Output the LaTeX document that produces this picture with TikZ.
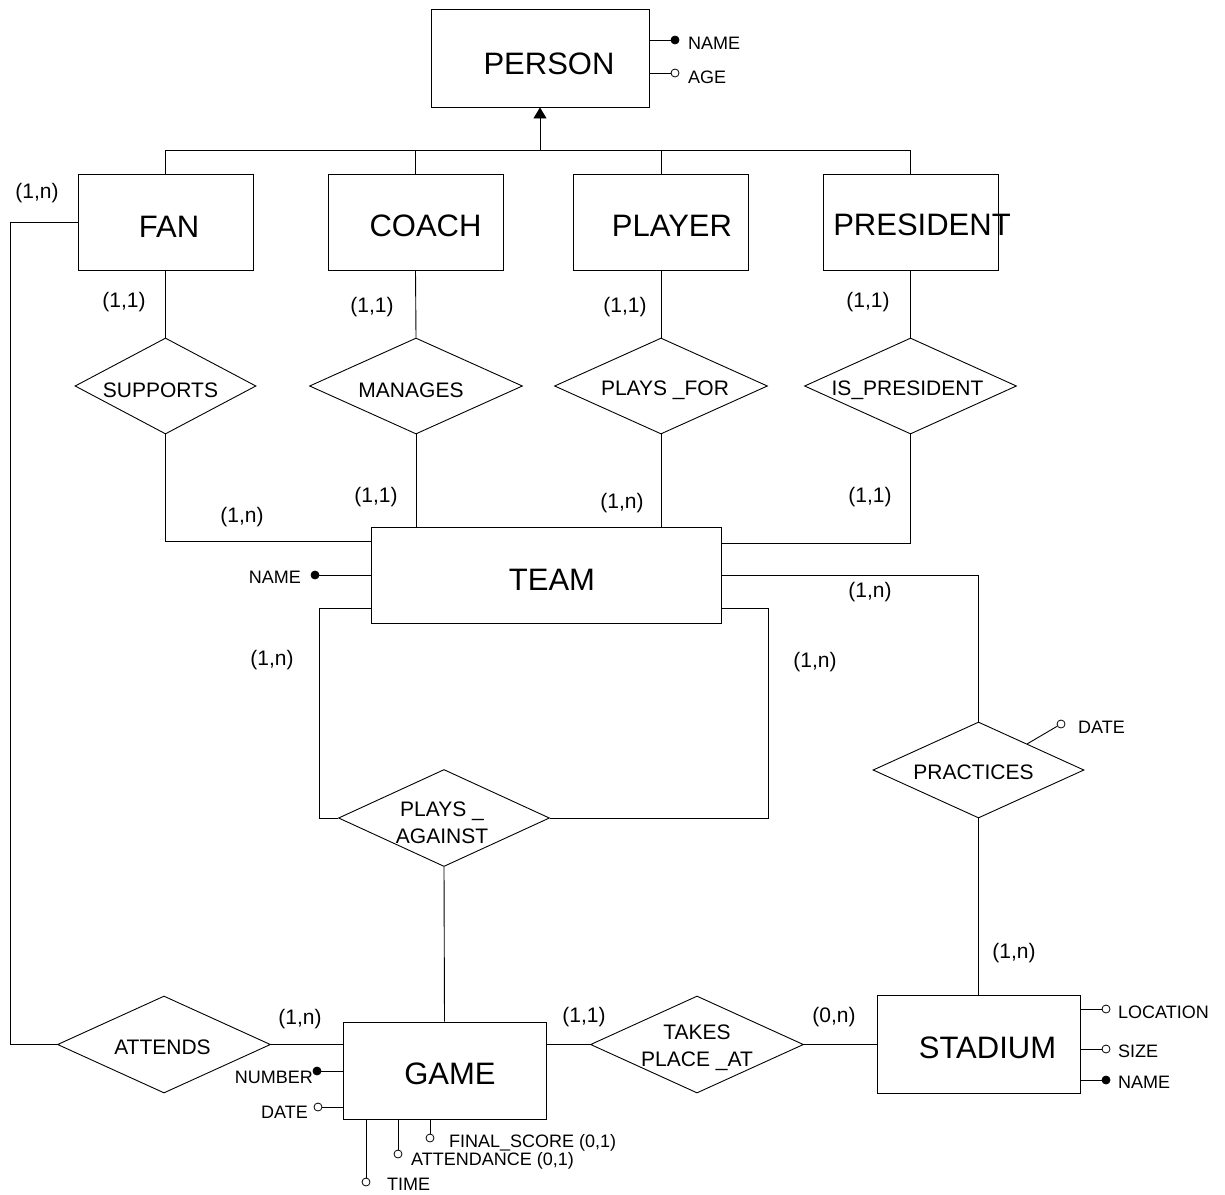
\documentclass[tikz,border=0pt]{standalone}
\usepackage{fontspec}
\setmainfont{Liberation Sans}
\usetikzlibrary{shapes.geometric,arrows.meta,calc}
\begin{document}
\begin{tikzpicture}[x=1pt,y=-1pt,
  every node/.style={inner sep=0pt},
  line/.style={draw=black, line width=0.9pt},
  entity/.style={draw, line width=0.9pt, minimum width=175pt, minimum height=96pt},
  relation/.style={diamond, draw, line width=0.9pt, minimum width=212pt, minimum height=96pt},
  enttext/.style={font=\fontsize{31}{34}\selectfont},
  reltext/.style={font=\fontsize{21}{27}\selectfont, align=center},
  card/.style={font=\fontsize{21}{24}\selectfont},
  attr/.style={font=\fontsize{18}{20}\selectfont},
  keydot/.style={circle, draw, line width=0.8pt, fill=black, minimum size=8pt},
  optdot/.style={circle, draw, line width=0.8pt, fill=white, minimum size=8pt},
]
\fill[white] (0,0) rectangle (1225,1194);
\useasboundingbox (0,0) rectangle (1225,1194);

% ---------- entities ----------
\node[entity, minimum width=218pt, minimum height=98pt,
      label={[enttext,xshift=9pt,yshift=-6pt]center:PERSON}] (person) at (540,58) {};
\node[entity, label={[enttext,xshift=3.5pt,yshift=-4.5pt]center:FAN}] (fan) at (165.5,222) {};
\node[entity, label={[enttext,xshift=10pt,yshift=-4pt]center:COACH}] (coach) at (415.5,222) {};
\node[entity, label={[enttext,xshift=11pt,yshift=-4pt]center:PLAYER}] (player) at (661,222) {};
\node[entity, label={[enttext,xshift=11.5pt,yshift=-3pt]center:PRESIDENT}] (president) at (910.5,222) {};
\node[entity, minimum width=350pt,
      label={[enttext,xshift=6pt,yshift=-5pt]center:TEAM}] (team) at (546,575) {};
\node[entity, minimum width=203pt, minimum height=97pt,
      label={[enttext,xshift=5.5pt,yshift=-3.5pt]center:GAME}] (game) at (444.5,1070.5) {};
\node[entity, minimum width=203pt, minimum height=98pt,
      label={[enttext,xshift=9pt,yshift=-4pt]center:STADIUM}] (stadium) at (978.5,1044) {};

% ---------- relationships ----------
\node[relation, minimum width=181pt,
      label={[reltext,xshift=-5pt,yshift=-4pt]center:SUPPORTS}] (supports) at (165.5,386) {};
\node[relation, minimum width=213pt,
      label={[reltext,xshift=-5pt,yshift=-4pt]center:MANAGES}] (manages) at (416,386) {};
\node[relation, minimum width=213pt,
      label={[reltext,xshift=4pt,yshift=-4pt]center:PLAYS \_FOR}] (playsfor) at (661,386) {};
\node[relation,
      label={[reltext,xshift=-3pt,yshift=-4pt]center:IS\_PRESIDENT}] (ispresident) at (910.5,386) {};
\node[relation, minimum width=211pt, minimum height=97pt,
      label={[reltext,xshift=-2pt,yshift=-4.5pt]center:{PLAYS \_\\AGAINST}}] (playsagainst) at (444,818) {};
\node[relation, minimum width=213pt, minimum height=97pt,
      label={[reltext,xshift=-1.5pt,yshift=-3pt]center:ATTENDS}] (attends) at (164,1044.5) {};
\node[relation, minimum width=213pt, minimum height=97pt,
      label={[reltext,yshift=-3pt]center:{TAKES\\PLACE \_AT}}] (takes) at (697,1044.5) {};
\node[relation, minimum width=211pt,
      label={[reltext,xshift=-5pt,yshift=-2.5pt]center:PRACTICES}] (practices) at (978.5,770) {};

% ---------- generalisation ----------
\coordinate (isa) at ($(person.south)+(0,43)$);
\draw[line] (fan.north) |- (isa) -| (president.north);
\draw[line] (coach.north) -- (coach.north |- isa);
\draw[line] (player.north) -- (player.north |- isa);
\draw[line, -{Triangle[length=11pt,width=13pt]}] (isa) -- (person.south);

% ---------- connectors ----------
\draw[line] (fan.south) -- (supports.north);
\draw[line] (supports.south) |- ([yshift=34pt]team.west);
\draw[line] (coach.south) -- (manages.north);
\draw[line] (manages.south) -- (manages.south |- team.north);
\draw[line] (player.south) -- (playsfor.north);
\draw[line] (playsfor.south) -- (playsfor.south |- team.north);
\draw[line] (president.south) -- (ispresident.north);
\draw[line] (ispresident.south) |- ([yshift=32pt]team.east);
\draw[line] (team.east) -| (practices.north);
\draw[line] (practices.south) -- (stadium.north);
\draw[line] ([yshift=-33pt]team.west) -- ++(-51,0) |- (playsagainst.west);
\draw[line] ([yshift=-33pt]team.east) -- ++(47,0) |- (playsagainst.east);
\draw[line] (playsagainst.south) -- (game.north);
\draw[line] (fan.west) -- ++(-67,0) |- (attends.west);
\draw[line] (attends.east) -- (attends.east -| game.west);
\draw[line] (game.east |- takes.west) -- (takes.west);
\draw[line] (takes.east) -- (takes.east -| stadium.west);

% ---------- cardinalities ----------
\node[card] (c1) at (37,193) {(1,n)};
\node[card] (c2) at (124,302) {(1,1)};
\node[card] (c3) at (372,307) {(1,1)};
\node[card] (c4) at (625,307) {(1,1)};
\node[card] (c5) at (868,302) {(1,1)};
\node[card] (c6) at (242,517) {(1,n)};
\node[card] (c7) at (376,497) {(1,1)};
\node[card] (c8) at (622,503) {(1,n)};
\node[card] (c9) at (870,497) {(1,1)};
\node[card] (c10) at (870,592) {(1,n)};
\node[card] (c11) at (272,660) {(1,n)};
\node[card] (c12) at (815,662) {(1,n)};
\node[card] (c13) at (1014,953) {(1,n)};
\node[card] (c14) at (300,1019) {(1,n)};
\node[card] (c15) at (584,1017) {(1,1)};
\node[card] (c16) at (834,1017) {(0,n)};

% ---------- attributes: PERSON ----------
\node[keydot] (pname) at (675,40) {};
\draw[line] (pname -| person.east) -- (pname);
\node[attr, anchor=west] (pnameT) at (688,43) {NAME};
\node[optdot] (page) at (675,73) {};
\draw[line] (page -| person.east) -- (page);
\node[attr, anchor=west] (pageT) at (688,77) {AGE};

% ---------- attributes: TEAM ----------
\node[keydot] (tname) at (315,575) {};
\draw[line] (team.west) -- (tname);
\node[attr, anchor=east] (tnameT) at (301,577) {NAME};

% ---------- attributes: PRACTICES ----------
\node[optdot] (prdate) at (1061,724) {};
\draw[line] ($(practices.north)!0.46!(practices.east)$) -- (prdate);
\node[attr, anchor=west] (prdateT) at (1078,727) {DATE};

% ---------- attributes: STADIUM ----------
\node[optdot] (sloc) at (1106,1009) {};
\draw[line] (sloc -| stadium.east) -- (sloc);
\node[attr, anchor=west] (slocT) at (1118,1012) {LOCATION};
\node[optdot] (ssize) at (1106,1049) {};
\draw[line] (ssize -| stadium.east) -- (ssize);
\node[attr, anchor=west] (ssizeT) at (1118,1051) {SIZE};
\node[keydot] (sname) at (1106,1080) {};
\draw[line] (sname -| stadium.east) -- (sname);
\node[attr, anchor=west] (snameT) at (1118,1082) {NAME};

% ---------- attributes: GAME ----------
\node[keydot] (gnum) at (317,1071) {};
\draw[line] (gnum -| game.west) -- (gnum);
\node[attr, anchor=east] (gnumT) at (313,1077) {NUMBER};
\node[optdot] (gdate) at (318,1107) {};
\draw[line] (gdate -| game.west) -- (gdate);
\node[attr, anchor=east] (gdateT) at (308,1112) {DATE};
\node[optdot] (gtime) at (366,1182) {};
\draw[line] (gtime |- game.south) -- (gtime);
\node[attr, anchor=west] (gtimeT) at (387,1184.5) {TIME};
\node[optdot] (gatt) at (398,1154) {};
\draw[line] (gatt |- game.south) -- (gatt);
\node[attr, anchor=west] (gattT) at (411,1161) {ATTENDANCE (0,1)};
\node[optdot] (gscore) at (430,1138) {};
\draw[line] (gscore |- game.south) -- (gscore);
\node[attr, anchor=west] (gscoreT) at (449,1142.5) {FINAL\_SCORE (0,1)};
\end{tikzpicture}
\end{document}
